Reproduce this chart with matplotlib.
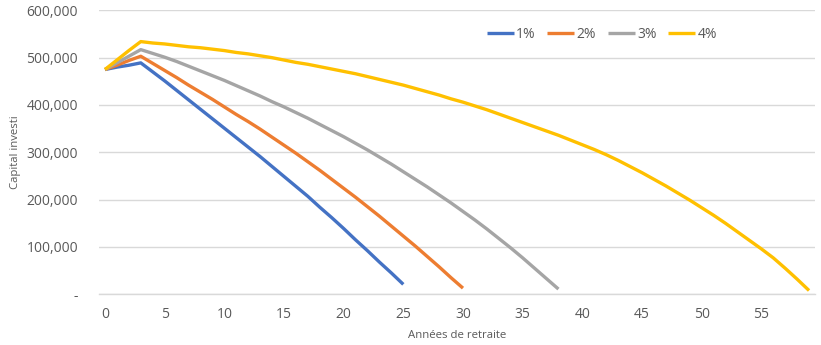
import matplotlib
matplotlib.use("Agg")
import matplotlib.pyplot as plt
from matplotlib.ticker import FuncFormatter, MultipleLocator

plt.rcParams['font.family'] = ['Open Sans', 'DejaVu Sans']

# Capital over the years of retirement for four rates (values in thousands)
years_1 = list(range(0, 26))
cap_1 = [475, 480, 484, 489, 470, 451, 431, 411, 391, 371, 351, 331, 311,
         291, 270, 249, 228, 207, 184, 162, 139, 115, 92, 68, 45, 21]

years_2 = list(range(0, 31))
cap_2 = [475, 484, 494, 503, 488, 473, 458, 442, 427, 412, 396, 380, 365,
         349, 332, 315, 298, 280, 262, 243, 224, 205, 185, 165, 144, 123,
         102, 80, 58, 35, 13]

years_3 = list(range(0, 39))
cap_3 = [475, 489, 503, 517, 509, 501, 492, 482, 472, 462, 452, 441, 430,
         419, 407, 396, 384, 372, 359, 346, 333, 319, 305, 290, 275, 259,
         243, 227, 210, 193, 175, 157, 138, 118, 98, 77, 55, 33, 11]

years_4 = list(range(0, 60))
cap_4 = [475, 495, 515, 534, 531, 529, 526, 523, 521, 518, 515, 511, 508,
         504, 500, 495, 490, 486, 481, 476, 471, 466, 460, 454, 448, 442,
         435, 428, 421, 413, 406, 398, 390, 381, 372, 363, 354, 345, 336,
         326, 316, 306, 295, 283, 270, 257, 243, 229, 214, 199, 183, 167,
         150, 132, 114, 96, 77, 55, 32, 8]

series_labels = ["1%", "2%", "3%", "4%"]
series_colors = ["#4472C4", "#ED7D31", "#A5A5A5", "#FFC000"]

x_title = "Années de retraite"
y_title = "Capital investi"

text_color = "#595959"
grid_color = "#D9D9D9"

fig = plt.figure(figsize=(8.21, 3.45), dpi=100)
ax = fig.add_axes([0.1206, 0.147, 0.8721, 0.823])

data = [(years_1, cap_1), (years_2, cap_2), (years_3, cap_3), (years_4, cap_4)]
handles = []
for (xs, ys), lab, col in zip(data, series_labels, series_colors):
    h, = ax.plot(xs, [v * 1000 for v in ys], color=col, lw=2.4, label=lab,
                 solid_joinstyle='round', solid_capstyle='butt')
    handles.append(h)

ax.set_xlim(-0.5, 59.5)
ax.set_ylim(0, 600000)
ax.xaxis.set_major_locator(MultipleLocator(5))
ax.yaxis.set_major_locator(MultipleLocator(100000))


def y_fmt(v, pos):
    if abs(v) < 1:
        return "-"
    return f"{int(round(v)):,}"


ax.yaxis.set_major_formatter(FuncFormatter(y_fmt))
ax.grid(axis='y', color=grid_color, lw=1.0)
ax.set_axisbelow(True)
for s in ["top", "right", "left"]:
    ax.spines[s].set_visible(False)
ax.spines["bottom"].set_color(grid_color)
ax.spines["bottom"].set_linewidth(1.0)
ax.tick_params(axis='both', length=0, labelsize=10, colors=text_color)
ax.tick_params(axis='y', pad=15)
ax.tick_params(axis='x', pad=9)

ax.set_xlabel(x_title, fontsize=8.2, color=text_color, labelpad=6)
ax.set_ylabel(y_title, fontsize=8.2, color=text_color, labelpad=4)

fig.legend(handles=handles, loc='center', bbox_to_anchor=(0.733, 0.90),
           ncol=4, frameon=False, fontsize=10, labelcolor=text_color,
           handlelength=1.95, handletextpad=0.15, columnspacing=0.85)

fig.savefig("out.png", dpi=100)
